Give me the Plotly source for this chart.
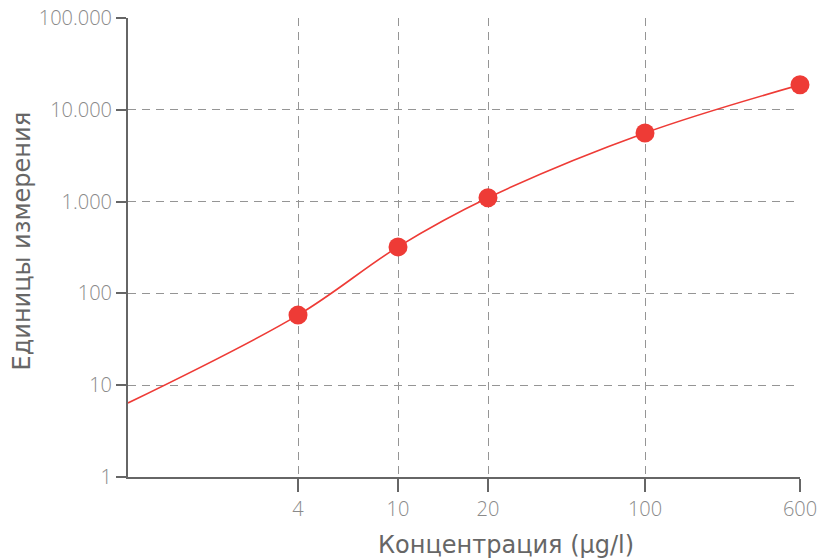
import numpy as np
import plotly.graph_objects as go

# Calibration standards: concentration (µg/l) and measured signal (units)
conc = [4, 10, 20, 100, 600]
signal = [58, 321, 1100, 5600, 18700]

# Fitted calibration curve, starting at the lower end of the axis
curve_conc = [1, 4, 10, 20, 100, 600]
curve_signal = [6.4, 58, 321, 1100, 5600, 18700]

x_tick_labels = ["4", "10", "20", "100", "600"]
y_tick_vals = [1, 10, 100, 1000, 10000, 100000]
y_tick_text = ["1", "10", "100", "1.000", "10.000", "100.000"]

# Piecewise logarithmic concentration scale (axis units)
SCALE_KNOTS = [1, 4, 10, 20, 100, 600]
SCALE_STOPS = [0, 170, 270, 360, 517, 672]


def to_axis(c):
    return np.interp(np.log10(c), np.log10(SCALE_KNOTS), SCALE_STOPS)


RED = "#ee3b36"
GRID = "#959595"
AXIS = "#666666"
FONT = "DejaVu Sans"
TICKFONT = dict(size=20, family="Open Sans", color="#8a8a8a", weight=300)

fig = go.Figure()
fig.add_trace(go.Scatter(
    x=to_axis(curve_conc), y=curve_signal, mode="lines",
    line=dict(color=RED, width=1.6, shape="spline", smoothing=1.0),
    hoverinfo="skip", cliponaxis=False,
))
fig.add_trace(go.Scatter(
    x=to_axis(conc), y=signal, mode="markers",
    marker=dict(color=RED, size=19, line=dict(width=0)),
    cliponaxis=False,
))

fig.update_layout(
    width=819, height=558,
    margin=dict(l=128, r=19, t=18, b=81),
    plot_bgcolor="white", paper_bgcolor="white",
    showlegend=False,
    font=dict(family=FONT, color="#888888"),
    xaxis=dict(
        type="linear", range=[0, 672], automargin=False,
        tickvals=to_axis(conc), ticktext=x_tick_labels,
        showgrid=True, gridcolor=GRID, griddash="8px,6px", gridwidth=1.4,
        showline=True, linecolor=AXIS, linewidth=2,
        ticks="outside", ticklen=13, tickwidth=2, tickcolor=AXIS,
        tickfont=TICKFONT, zeroline=False,
    ),
    yaxis=dict(
        type="log", range=[0, 5], automargin=False,
        tickvals=y_tick_vals, ticktext=y_tick_text,
        showgrid=True, gridcolor=GRID, griddash="8px,6px", gridwidth=1.4,
        showline=True, linecolor=AXIS, linewidth=2,
        ticks="outside", ticklen=10, tickwidth=2, tickcolor=AXIS,
        tickfont=TICKFONT, zeroline=False,
    ),
    annotations=[
        dict(text="Концентрация (µg/l)", xref="paper", yref="paper",
             x=0.5625, y=-0.148, xanchor="center", yanchor="middle",
             showarrow=False, font=dict(size=24, family=FONT, color="#666666")),
        dict(text="Единицы измерения", xref="paper", yref="paper",
             x=-0.158, y=0.515, xanchor="center", yanchor="middle", textangle=-90,
             showarrow=False, font=dict(size=24, family=FONT, color="#666666")),
    ],
)

fig.write_html("out.html")
